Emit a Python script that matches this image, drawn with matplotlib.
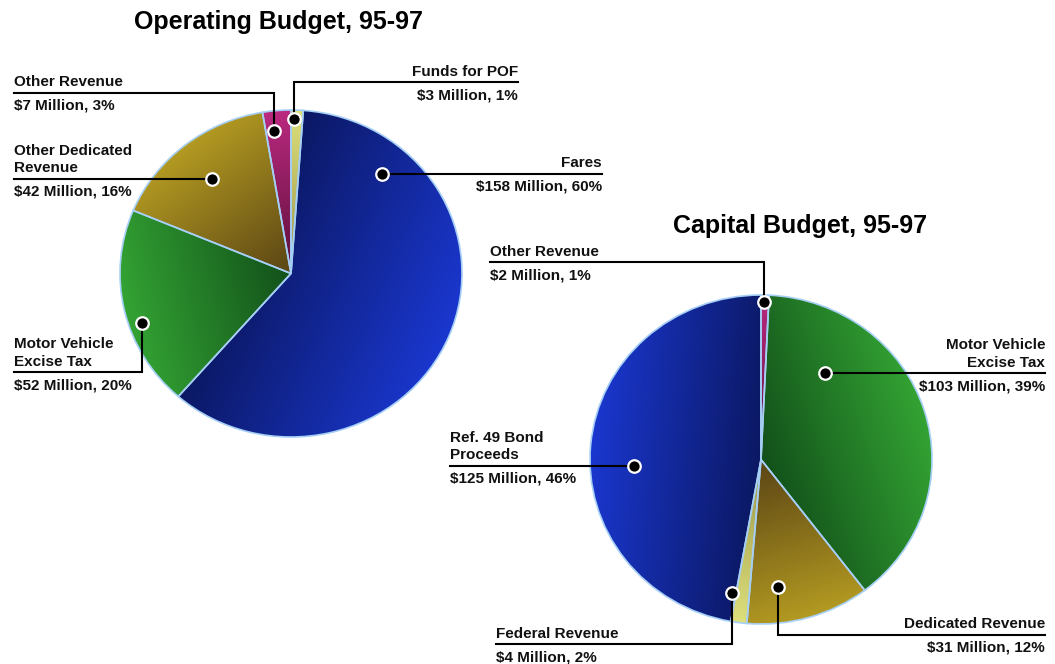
import numpy as np
import matplotlib.pyplot as plt
from matplotlib.colors import to_rgb

plt.rcParams['font.family'] = ['Liberation Sans', 'DejaVu Sans']

W, H = 1055, 664

# Operating budget 95-97, $ millions, clockwise from 12 o'clock
op_names = ['Funds for POF', 'Fares', 'Motor Vehicle\nExcise Tax',
            'Other Dedicated\nRevenue', 'Other Revenue']
op_values = [3, 158, 52, 42, 7]
op_pct = [1, 60, 20, 16, 3]
op_kind = ['yellow', 'blue', 'green', 'gold', 'magenta']

# Capital budget 95-97, $ millions, clockwise from 12 o'clock
cap_names = ['Other Revenue', 'Motor Vehicle\nExcise Tax', 'Dedicated Revenue',
             'Federal Revenue', 'Ref. 49 Bond\nProceeds']
cap_values = [2, 103, 31, 4, 125]
cap_pct = [1, 39, 12, 2, 46]
cap_kind = ['magenta', 'green', 'gold', 'yellow', 'blue']

# (light rim colour, dark centre colour)
shades = {
    'blue': ('#1a37cf', '#0b1863'),
    'green': ('#33a333', '#12501a'),
    'gold': ('#b39a22', '#5a4414'),
    'magenta': ('#bb2a80', '#5c0f3a'),
    'yellow': ('#dde07c', '#9a9448'),
}
edge = '#a6cff5'

# label anchors: (angle deg, radius frac, side, text x, leader y or None)
op_layout = [
    (88.9, 0.945, 'right', 518, 82),
    (48.9, 0.808, 'right', 602, None),
    (199.2, 0.922, 'left', 14, 372),
    (128.6, 0.740, 'left', 14, None),
    (96.5, 0.877, 'left', 14, 93),
]
cap_layout = [
    (89.0, 0.957, 'left', 490, 262),
    (54.6, 0.645, 'right', 1045, None),
    (277.3, 0.781, 'right', 1045, 635),
    (258.2, 0.829, 'left', 496, 644),
    (183.0, 0.744, 'left', 450, None),
]

fig = plt.figure(figsize=(W / 100, H / 100), dpi=100)
overlay = fig.add_axes([0, 0, 1, 1], zorder=5)
overlay.set_xlim(0, W)
overlay.set_ylim(H, 0)
overlay.axis('off')

gx, gy = np.meshgrid(np.linspace(-1, 1, 400), np.linspace(-1, 1, 400))


def draw_pie(box, values, kinds):
    left, top, right, bottom = box
    ax = fig.add_axes([left / W, (H - bottom) / H, (right - left) / W, (bottom - top) / H])
    wedges, _ = ax.pie(values, startangle=90, counterclock=False, radius=1,
                       wedgeprops=dict(edgecolor=edge, linewidth=1.2))
    ax.set_aspect('auto')
    for w, kind in zip(wedges, kinds):
        light, dark = np.array(to_rgb(shades[kind][0])), np.array(to_rgb(shades[kind][1]))
        mid = np.radians((w.theta1 + w.theta2) / 2)
        half = np.radians(abs(w.theta2 - w.theta1) / 2)
        t = gx * np.cos(mid) + gy * np.sin(mid)
        tmin = min(0.0, np.cos(half))
        t = np.clip((t - tmin) / (1 - tmin), 0, 1)
        img = dark + (light - dark) * t[..., None]
        im = ax.imshow(img, extent=(-1, 1, -1, 1), origin='lower', aspect='auto',
                       interpolation='bilinear', zorder=0.5)
        im.set_clip_path(w)
        w.set_facecolor('none')
        w.set_zorder(2)
        w.set_clip_on(False)
    ax.set_xlim(-1, 1)
    ax.set_ylim(-1, 1)
    return ax


def to_pixels(ax, x, y):
    disp = ax.transData.transform((x, y))
    return overlay.transData.inverted().transform(disp)


def draw_labels(ax, names, values, pct, layout):
    for name, val, p, (ang, r, side, tx, ly) in zip(names, values, pct, layout):
        a = np.radians(ang)
        dx, dy = to_pixels(ax, r * np.cos(a), r * np.sin(a))
        if ly is None:
            ly = dy
        overlay.plot([dx, dx, tx], [dy, ly, ly], color='black', lw=1.5,
                     solid_joinstyle='miter', zorder=3)
        overlay.plot(dx, dy, 'o', ms=9, mfc='black', mec='white', mew=1.6, zorder=4)
        ha = 'left' if side == 'left' else 'right'
        overlay.text(tx, ly - 6.5, name, ha=ha, va='baseline', fontsize=11,
                     fontweight='bold', linespacing=1.32, color='#111111')
        overlay.text(tx, ly + 17, f'${val} Million, {p}%', ha=ha, va='baseline',
                     fontsize=11, fontweight='bold', color='#111111')


op_ax = draw_pie((120, 110, 462, 437), op_values, op_kind)
cap_ax = draw_pie((590, 295, 932, 624), cap_values, cap_kind)

draw_labels(op_ax, op_names, op_values, op_pct, op_layout)
draw_labels(cap_ax, cap_names, cap_values, cap_pct, cap_layout)

overlay.text(279, 29, 'Operating Budget, 95-97', ha='center', va='baseline',
             fontsize=18, fontweight='bold', color='black')
overlay.text(800, 233, 'Capital Budget, 95-97', ha='center', va='baseline',
             fontsize=18, fontweight='bold', color='black')

fig.savefig('out.png', dpi=100, facecolor='white')
